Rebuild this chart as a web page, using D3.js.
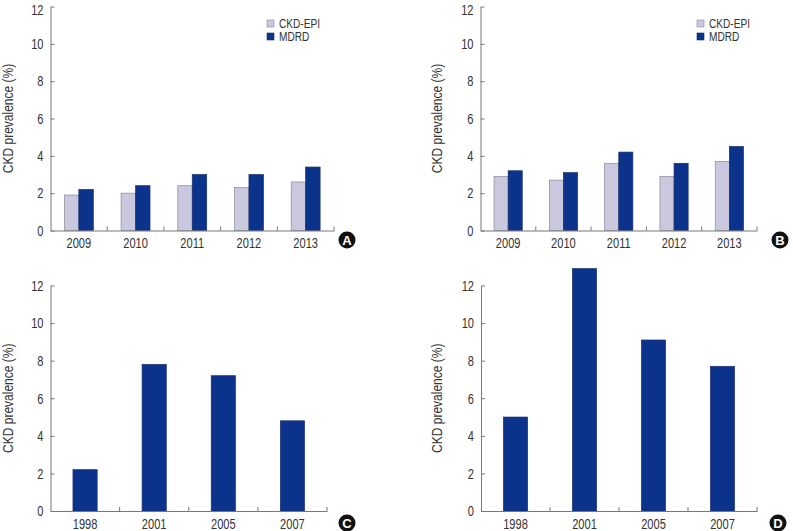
<!DOCTYPE html>
<html><head><meta charset="utf-8">
<script src="https://cdn.jsdelivr.net/npm/d3@7"></script>
<style>
body{margin:0;background:#fff;}
svg{display:block;}
text{font-family:"Liberation Sans",Arial,sans-serif;fill:#333;}
</style></head><body>
<script>
// ---- data ----
const yearsAB = ["2009","2010","2011","2012","2013"];
const seriesNames = ["CKD-EPI","MDRD"];
const aEPI  = [1.9, 2.0, 2.4, 2.3, 2.6];
const aMDRD = [2.2, 2.4, 3.0, 3.0, 3.4];
const bEPI  = [2.9, 2.7, 3.6, 2.9, 3.7];
const bMDRD = [3.2, 3.1, 4.2, 3.6, 4.5];
const yearsCD = ["1998","2001","2005","2007"];
const cVals = [2.2, 7.8, 7.2, 4.8];
const dVals = [5.0, 12.9, 9.1, 7.7];
const yTicks = [0, 2, 4, 6, 8, 10, 12];
const yLabel = "CKD prevalence (%)";
const panelLetters = ["A","B","C","D"];

const colEPI = "#c9c8de", colMDRD = "#0c338b";
const W = 793, H = 531;
const SX = 0.74; // horizontal condensing of the narrow typeface
const svg = d3.select("body").append("svg").attr("width", W).attr("height", H);

function condense(sel, s){
  sel.each(function(){
    const t = d3.select(this);
    const x = +t.attr("x") || 0;
    t.attr("x", x / s).attr("transform", `scale(${s},1)`);
  });
}

function panel(opts){
  const g = svg.append("g");
  const y = d3.scaleLinear().domain([0, 12]).range([opts.y0, opts.y12]);
  const x0 = d3.scaleBand().domain(opts.cats).range([opts.left, opts.right])
    .paddingInner(opts.pad).paddingOuter(opts.pad/2);
  const step = x0.step();
  if (opts.series.length === 2) {
    const x1 = d3.scaleBand().domain(seriesNames).range([0, x0.bandwidth()]);
    const data = opts.cats.map((c,i)=>({c, v:[opts.series[0][i], opts.series[1][i]]}));
    const grp = g.selectAll("g.grp").data(data).join("g").attr("transform", d=>`translate(${x0(d.c)},0)`);
    grp.selectAll("rect").data(d=>d.v.map((v,k)=>({k, v}))).join("rect")
      .attr("x", d=>x1(seriesNames[d.k])).attr("width", x1.bandwidth())
      .attr("y", d=>y(d.v)).attr("height", d=>y(0)-y(d.v))
      .attr("fill", d=>d.k===0?colEPI:colMDRD)
      .attr("stroke", d=>d.k===0?"#8a8a9a":"#1a2f6e").attr("stroke-width",0.7);
  } else {
    g.selectAll("rect").data(opts.cats.map((c,i)=>({c, v:opts.series[0][i]}))).join("rect")
      .attr("x", d=>x0(d.c)).attr("width", x0.bandwidth())
      .attr("y", d=>y(d.v)).attr("height", d=>y(0)-y(d.v))
      .attr("fill", colMDRD).attr("stroke","#1a2f6e").attr("stroke-width",0.7);
  }
  // y axis
  const ya = g.append("g").attr("transform", `translate(${opts.left},0)`)
    .call(d3.axisLeft(y).tickValues(yTicks).tickSize(-4).tickPadding(7).tickSizeOuter(0));
  ya.select(".domain").attr("stroke","#777");
  ya.selectAll(".tick line").attr("stroke","#777");
  ya.selectAll("text").style("font-size","15px").attr("fill","#333")
    .style("font-family",'"Liberation Sans",Arial,sans-serif');
  if (opts.y12 < 10) ya.selectAll(".tick text").filter(d=>d===12).attr("dy","0.5em");
  condense(ya.selectAll("text"), SX);
  // x axis
  const xa = g.append("g").attr("transform", `translate(0,${opts.y0})`)
    .call(d3.axisBottom(x0).tickSize(0).tickPadding(7).tickSizeOuter(0));
  xa.select(".domain").attr("stroke","#777");
  xa.selectAll("text").style("font-size","15px").attr("fill","#333")
    .style("font-family",'"Liberation Sans",Arial,sans-serif');
  condense(xa.selectAll("text"), SX);
  const bounds = d3.range(1, opts.cats.length+1).map(i=>opts.left + i*step);
  xa.selectAll("line.bnd").data(bounds).join("line").attr("class","bnd")
    .attr("x1",d=>d).attr("x2",d=>d).attr("y1",0).attr("y2",-4).attr("stroke","#777");
  // y label
  g.append("text").attr("transform", `translate(${opts.labX},${(opts.y0+opts.y12)/2}) rotate(-90) scale(0.8,1)`)
    .attr("text-anchor","middle").style("font-size","15px").text(yLabel);
  // legend
  if (opts.legend) {
    const lg = g.append("g").attr("transform", `translate(${opts.legend[0]},${opts.legend[1]})`);
    seriesNames.forEach((s,k)=>{
      lg.append("rect").attr("x",0).attr("y",k*13).attr("width",7).attr("height",7)
        .attr("fill",k===0?colEPI:colMDRD).attr("stroke",k===0?"#8a8a9a":"#1a2f6e").attr("stroke-width",0.6);
      const t = lg.append("text").attr("x",12).attr("y",k*13+8).style("font-size","13px").text(s);
      condense(t, 0.78);
    });
  }
  // panel letter
  g.append("circle").attr("cx",opts.badge[0]).attr("cy",opts.badge[1]).attr("r",8.5).attr("fill","#111");
  g.append("text").attr("x",opts.badge[0]).attr("y",opts.badge[1]+4.5).attr("text-anchor","middle")
    .style("font-family",'"Liberation Sans",Arial,sans-serif').style("font-size","13px").style("font-weight","bold")
    .style("fill","#fff").text(opts.letter);
}

panel({cats:yearsAB, series:[aEPI,aMDRD], left:50.5, right:334, y0:230.5, y12:6.5, pad:0.49,
       labX:13, legend:[267,20], badge:[347,240], letter:panelLetters[0]});
panel({cats:yearsAB, series:[bEPI,bMDRD], left:480.5, right:757, y0:230.5, y12:6.5, pad:0.49,
       labX:442, legend:[697,20], badge:[780,240], letter:panelLetters[1]});
panel({cats:yearsCD, series:[cVals], left:50.5, right:327, y0:511, y12:285.5, pad:0.65,
       labX:13, legend:null, badge:[347,523], letter:panelLetters[2]});
panel({cats:yearsCD, series:[dVals], left:481, right:757, y0:511, y12:285.5, pad:0.65,
       labX:442, legend:null, badge:[778,523], letter:panelLetters[3]});
</script>
</body></html>
